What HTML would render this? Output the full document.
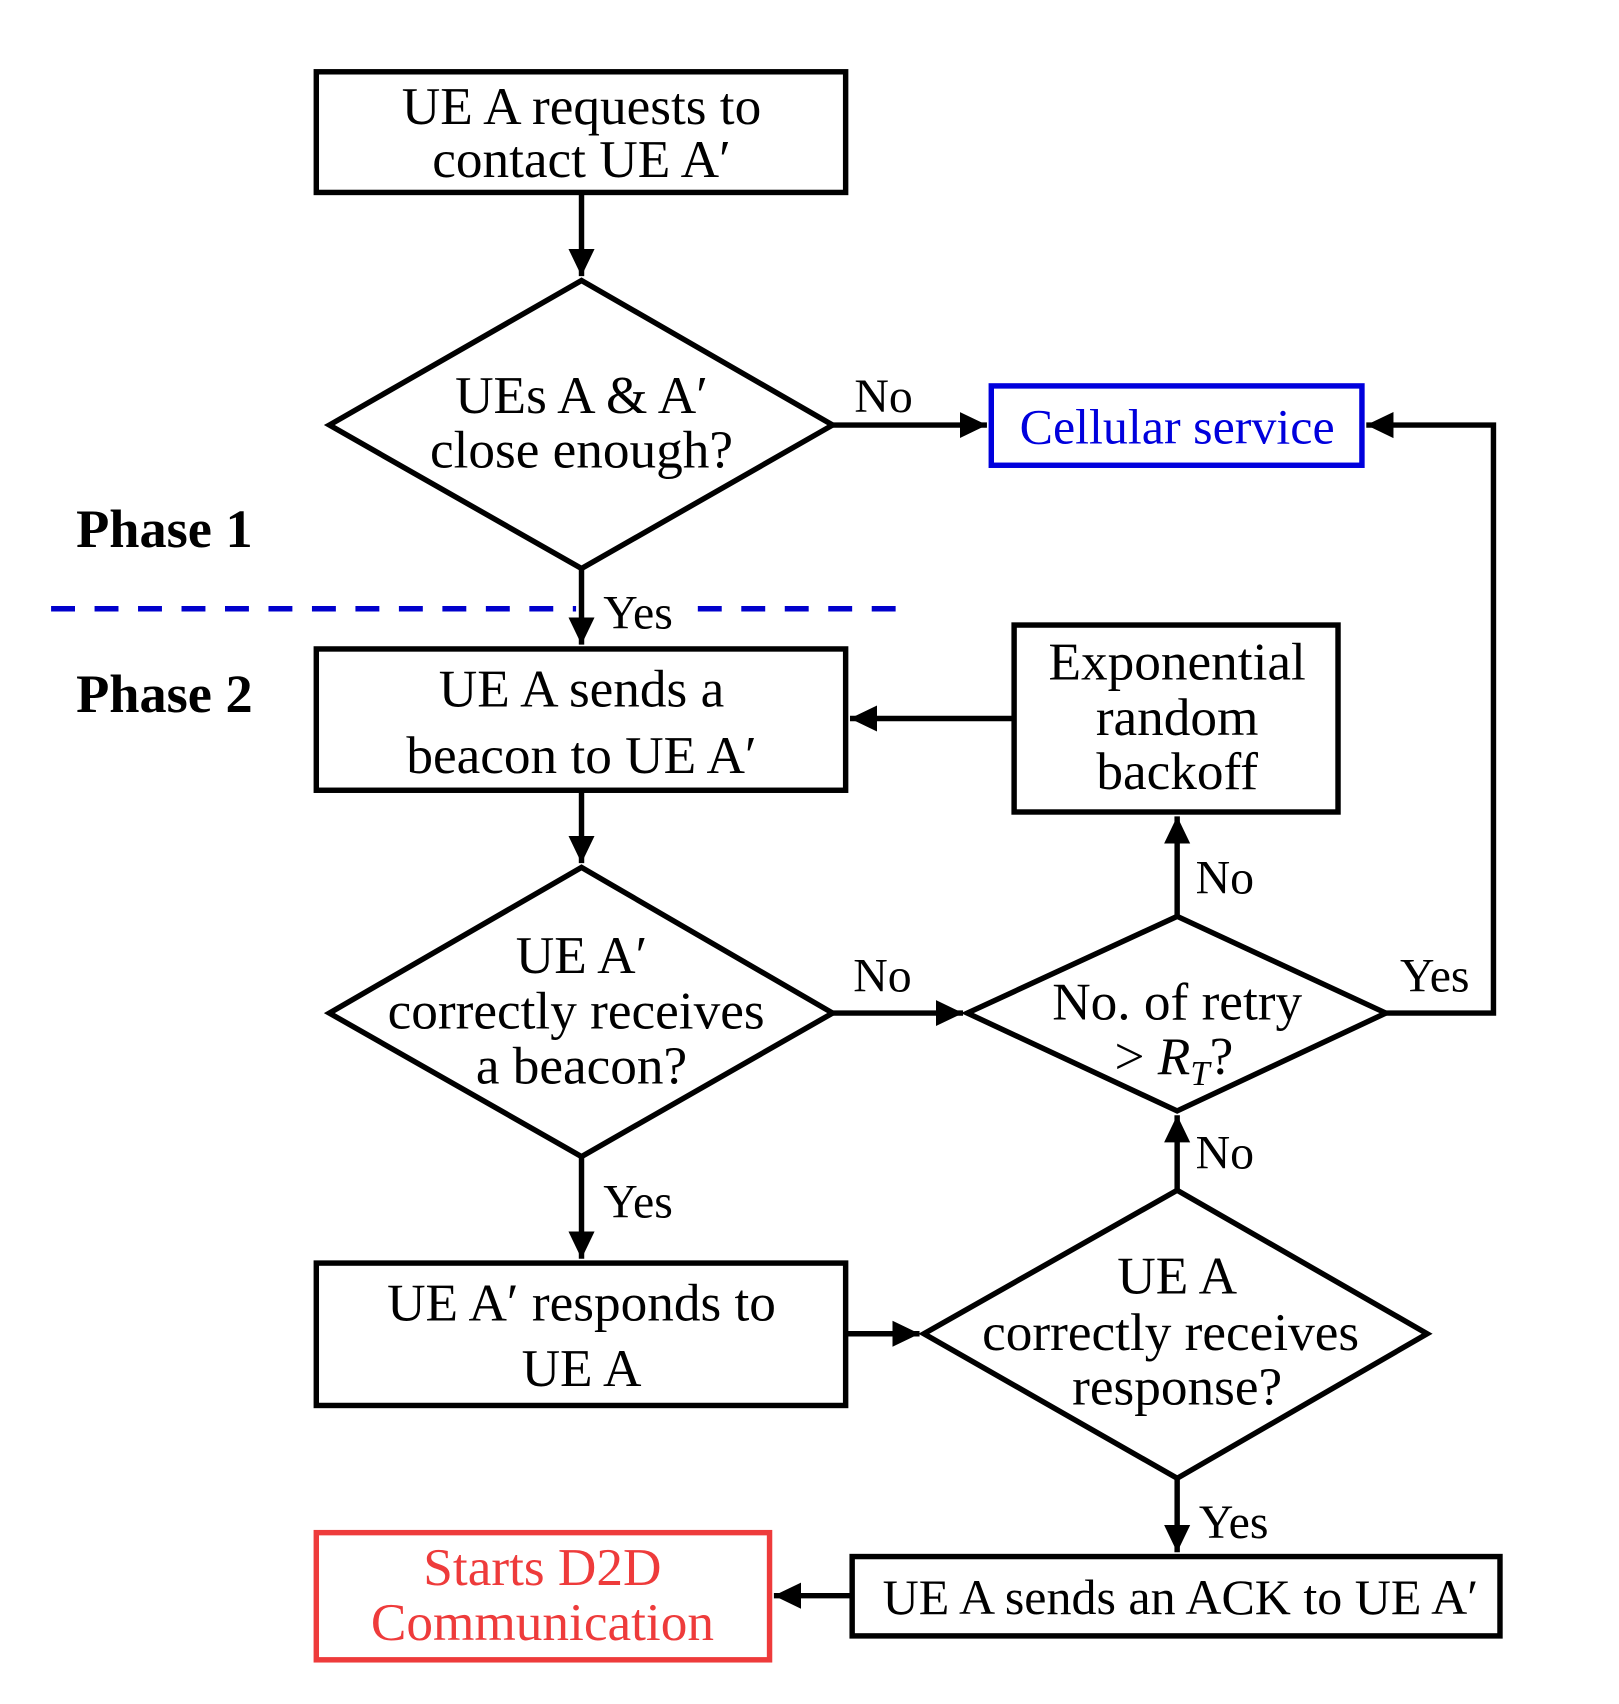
<!DOCTYPE html>
<html><head><meta charset="utf-8"><style>html,body{margin:0;padding:0;background:#fff}svg{display:block}</style></head>
<body>
<svg width="1619" height="1704" viewBox="0 0 1489.5 1567.6" xmlns="http://www.w3.org/2000/svg" font-family="'Liberation Serif', serif" font-size="49">
<defs>
<marker id="a" markerWidth="6" markerHeight="6" refX="5" refY="3" orient="auto" markerUnits="strokeWidth"><path d="M0,0.6 L5,3 L0,5.4 Z" fill="#000"/></marker>
</defs>
<g fill="none" stroke="#000" stroke-width="5">
<rect x="291" y="66" width="487" height="111"/>
<polygon points="303,391 535,258 766,391 535,523"/>
<rect x="291" y="597" width="487" height="130"/>
<rect x="933" y="575" width="298" height="172"/>
<polygon points="303,932 535,798 766,932 535,1064"/>
<polygon points="890,932 1083,843 1275,932 1083,1022"/>
<rect x="291" y="1162" width="487" height="131"/>
<polygon points="850,1227 1083,1095 1313,1227 1083,1360"/>
<rect x="784" y="1432" width="596" height="73"/>
<line x1="535" y1="177" x2="535" y2="254" marker-end="url(#a)"/>
<line x1="766" y1="391" x2="908" y2="391" marker-end="url(#a)"/>
<line x1="535" y1="523" x2="535" y2="593" marker-end="url(#a)"/>
<line x1="933" y1="661" x2="782" y2="661" marker-end="url(#a)"/>
<line x1="535" y1="727" x2="535" y2="794" marker-end="url(#a)"/>
<line x1="766" y1="932" x2="886" y2="932" marker-end="url(#a)"/>
<line x1="1083" y1="843" x2="1083" y2="751" marker-end="url(#a)"/>
<polyline points="1275,932 1374,932 1374,391 1257,391" marker-end="url(#a)"/>
<line x1="535" y1="1064" x2="535" y2="1158" marker-end="url(#a)"/>
<line x1="778" y1="1227" x2="846" y2="1227" marker-end="url(#a)"/>
<line x1="1083" y1="1095" x2="1083" y2="1026" marker-end="url(#a)"/>
<line x1="1083" y1="1360" x2="1083" y2="1428" marker-end="url(#a)"/>
<line x1="784" y1="1468" x2="712" y2="1468" marker-end="url(#a)"/>
</g>
<rect x="912" y="355" width="341" height="73" fill="none" stroke="#0000dd" stroke-width="5"/>
<rect x="291" y="1410" width="417" height="117" fill="none" stroke="#ee3b3b" stroke-width="5"/>
<line x1="47" y1="560" x2="530" y2="560" stroke="#0000cc" stroke-width="5" stroke-dasharray="22 18"/>
<line x1="642" y1="560" x2="825" y2="560" stroke="#0000cc" stroke-width="5" stroke-dasharray="22 18"/>
<g text-anchor="middle" fill="#000">
<text x="535" y="114">UE A requests to</text>
<text x="535" y="163">contact UE A′</text>
<text x="535" y="380">UEs A &amp; A′</text>
<text x="535" y="430">close enough?</text>
<text x="1083" y="408" fill="#0000dd" font-size="46">Cellular service</text>
<text x="535" y="650">UE A sends a</text>
<text x="535" y="711">beacon to UE A′</text>
<text x="1083" y="625">Exponential</text>
<text x="1083" y="676">random</text>
<text x="1083" y="726">backoff</text>
<text x="535" y="895">UE A′</text>
<text x="530" y="946">correctly receives</text>
<text x="535" y="997">a beacon?</text>
<text x="1083" y="938">No. of retry</text>
<text x="1080" y="988">&gt; <tspan font-style="italic">R</tspan><tspan font-style="italic" font-size="32" dy="10">T</tspan><tspan dy="-10">?</tspan></text>
<text x="535" y="1215">UE A′ responds to</text>
<text x="535" y="1275">UE A</text>
<text x="1083" y="1190">UE A</text>
<text x="1077" y="1242">correctly receives</text>
<text x="1083" y="1292">response?</text>
<text x="1086" y="1485" font-size="46">UE A sends an ACK to UE A′</text>
<text x="499" y="1458" fill="#ee3b3b">Starts D2D</text>
<text x="499" y="1509" fill="#ee3b3b">Communication</text>
</g>
<g fill="#000" font-size="44">
<text x="786" y="379">No</text>
<text x="555" y="578">Yes</text>
<text x="785" y="912">No</text>
<text x="1100" y="822">No</text>
<text x="1288" y="912">Yes</text>
<text x="555" y="1120">Yes</text>
<text x="1100" y="1075">No</text>
<text x="1103" y="1415">Yes</text>
</g>
<g font-weight="bold" font-size="50" fill="#000">
<text x="70" y="503">Phase 1</text>
<text x="70" y="655">Phase 2</text>
</g>
</svg>
</body></html>
